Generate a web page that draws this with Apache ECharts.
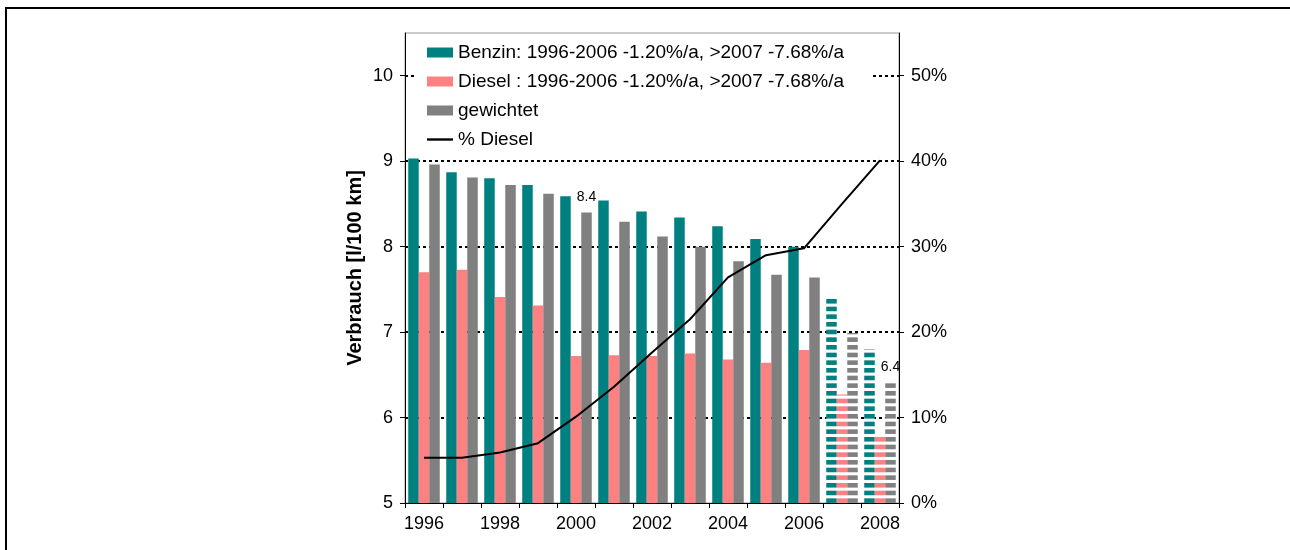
<!DOCTYPE html>
<html>
<head>
<meta charset="utf-8">
<script src="https://cdn.jsdelivr.net/npm/echarts@6/dist/echarts.min.js"></script>
<style>
html,body{margin:0;padding:0;background:#fff;}
#frame{position:absolute;left:5px;top:7px;width:1300px;height:600px;border-left:2px solid #000;border-top:2px solid #000;}
#chart{position:absolute;left:0;top:0;width:1290px;height:550px;}
</style>
</head>
<body>
<div id="frame"></div>
<div id="chart"></div>
<script>
// ---- data ----
const years = ['1996','1997','1998','1999','2000','2001','2002','2003','2004','2005','2006','2007','2008'];
const projectedYears = ['2007','2008'];
const benzin    = [9.03, 8.87, 8.80, 8.72, 8.59, 8.54, 8.41, 8.34, 8.24, 8.09, 8.00, 7.39, 6.80];
const diesel    = [7.70, 7.73, 7.41, 7.31, 6.72, 6.73, 6.72, 6.75, 6.68, 6.64, 6.79, 6.27, 5.80];
const gewichtet = [8.96, 8.81, 8.72, 8.62, 8.40, 8.29, 8.12, 8.00, 7.83, 7.67, 7.64, 6.99, 6.41];
const dieselShare = [5.3, 5.3, 5.9, 7.0, 10.1, 13.6, 17.6, 21.5, 26.4, 29.0, 29.8, 35.0, 40.1];
const labeledYears = ['2000','2008'];
const leftTicks = [5, 6, 7, 8, 9, 10];
const rightTicks = [0, 10, 20, 30, 40, 50];
const seriesNames = ['Benzin: 1996-2006 -1.20%/a, >2007 -7.68%/a','Diesel : 1996-2006 -1.20%/a, >2007 -7.68%/a','gewichtet','% Diesel'];

const TEAL = '#008080', PINK = '#FF8080', GRAY = '#808080';
const FONT = '"Liberation Sans", Arial, sans-serif';

function stripes(color){
  const c = document.createElement('canvas');
  c.width = 8; c.height = 23;
  const g = c.getContext('2d');
  g.fillStyle = '#fff'; g.fillRect(0,0,8,23);
  g.fillStyle = color;
  for (let i=0;i<3;i++) g.fillRect(0, i*23/3, 8, 4.6);
  return {image: c, repeat: 'repeat'};
}

function barData(values, color, withLabels){
  return values.map((v,i)=>{
    const d = {value: v};
    if (projectedYears.includes(years[i])) d.itemStyle = {color: stripes(color)};
    if (withLabels && labeledYears.includes(years[i])) {
      d.label = {show: true, position: 'top', distance: 8, fontSize: 14, color: '#000', fontFamily: FONT,
                 formatter: p => p.value.toFixed(1)};
    }
    return d;
  });
}

const chart = echarts.init(document.getElementById('chart'), null, {renderer: 'canvas'});
chart.setOption({
  backgroundColor: 'transparent',
  animation: false,
  textStyle: {fontFamily: FONT},
  grid: {left: 405, right: 391, top: 33, bottom: 47, show: true, borderColor: '#999', borderWidth: 1, backgroundColor: 'transparent'},
  legend: {
    orient: 'vertical', left: 414, top: 36,
    padding: [7, 26, 8, 13],
    backgroundColor: '#fff',
    itemWidth: 26, itemHeight: 10, itemGap: 10,
    textStyle: {fontSize: 19, color: '#000', fontFamily: FONT},
    data: [
      {name: seriesNames[0], icon: 'rect'},
      {name: seriesNames[1], icon: 'rect'},
      {name: seriesNames[2], icon: 'rect'},
      {name: seriesNames[3], icon: 'path://M0,0 L26,0 L26,2.4 L0,2.4 Z', itemStyle: {color: '#000'}}
    ]
  },
  xAxis: {
    type: 'category', data: years, boundaryGap: true,
    axisLine: {show: true, lineStyle: {color: '#000', width: 1}},
    axisTick: {show: true, interval: 0, alignWithLabel: false, length: 5, lineStyle: {color: '#000'}},
    axisLabel: {interval: 1, margin: 12, fontSize: 18, color: '#000', fontFamily: FONT},
    splitLine: {show: false}
  },
  yAxis: [
    {
      type: 'value', min: 5, max: 10.5, interval: 1,
      name: 'Verbrauch [l/100 km]', nameLocation: 'middle', nameGap: 40, nameRotate: 90,
      nameTextStyle: {fontSize: 20, fontWeight: 'bold', color: '#000', fontFamily: FONT},
      axisLine: {show: true, lineStyle: {color: '#000', width: 1}},
      axisTick: {show: true, length: 5, inside: false, lineStyle: {color: '#000'}, customValues: leftTicks},
      axisLabel: {margin: 12, fontSize: 18, color: '#000', fontFamily: FONT, customValues: leftTicks},
      splitLine: {show: true, showMinLine: false, showMaxLine: true, lineStyle: {color: '#000', width: 2, type: [3, 3]}}
    },
    {
      type: 'value', min: 0, max: 55, interval: 10, position: 'right',
      axisLine: {show: true, lineStyle: {color: '#000', width: 1}},
      axisTick: {show: true, length: 5, lineStyle: {color: '#000'}, customValues: rightTicks},
      axisLabel: {margin: 12, fontSize: 18, color: '#000', fontFamily: FONT,
                  formatter: '{value}%', customValues: rightTicks},
      splitLine: {show: false}
    }
  ],
  series: [
    {name: seriesNames[0], type: 'bar', barGap: '0%', barCategoryGap: '17%', itemStyle: {color: TEAL}, data: barData(benzin, TEAL, false), z: 2},
    {name: seriesNames[1], type: 'bar', barGap: '0%', barCategoryGap: '17%', itemStyle: {color: PINK}, data: barData(diesel, PINK, false), z: 2},
    {name: seriesNames[2], type: 'bar', barGap: '0%', barCategoryGap: '17%', itemStyle: {color: GRAY}, data: barData(gewichtet, GRAY, true), z: 2},
    {name: seriesNames[3], type: 'line', yAxisIndex: 1, symbol: 'none', showSymbol: false,
     lineStyle: {color: '#000', width: 2}, itemStyle: {color: '#000'}, data: dieselShare, z: 3}
  ]
});
</script>
</body>
</html>
